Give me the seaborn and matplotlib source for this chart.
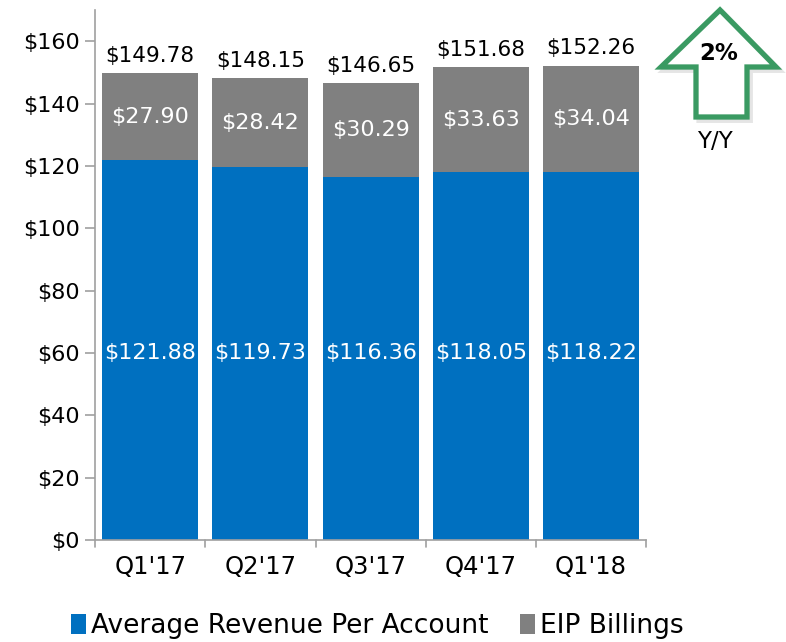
import matplotlib
matplotlib.use("Agg")
import matplotlib.pyplot as plt
import seaborn as sns
import pandas as pd
import numpy as np
from matplotlib.patches import Polygon

quarters = ["Q1'17", "Q2'17", "Q3'17", "Q4'17", "Q1'18"]
arpa = [121.88, 119.73, 116.36, 118.05, 118.22]
eip = [27.90, 28.42, 30.29, 33.63, 34.04]
totals = [149.78, 148.15, 146.65, 151.68, 152.26]
yticks = [0, 20, 40, 60, 80, 100, 120, 140, 160]

BLUE = "#0070C0"
GRAY = "#808080"
GREEN = "#3A9A62"
NARROW = ['Liberation Sans Narrow', 'DejaVu Sans']

sns.set_theme(style="white")
plt.rcParams['font.family'] = ['DejaVu Sans']
plt.rcParams['text.color'] = 'black'
plt.rcParams['xtick.color'] = 'black'
plt.rcParams['ytick.color'] = 'black'

df = pd.DataFrame({"quarter": quarters, "arpa": arpa, "eip": eip,
                   "total": [a + e for a, e in zip(arpa, eip)]})

fig = plt.figure(figsize=(7.86, 6.42), dpi=100)
ax = fig.add_axes([0.121, 0.159, 0.701, 0.825])

sns.barplot(data=df, x="quarter", y="total", color=GRAY, width=0.87,
            saturation=1, ax=ax, label="EIP Billings", linewidth=0)
sns.barplot(data=df, x="quarter", y="arpa", color=BLUE, width=0.87,
            saturation=1, ax=ax, label="Average Revenue Per Account", linewidth=0)
handles, labels = ax.get_legend_handles_labels()
if ax.get_legend() is not None:
    ax.get_legend().remove()

ax.set_ylim(0, 170)
ax.set_xlim(-0.5, 4.5)
ax.set_yticks(yticks)
ax.set_yticklabels([f"${v}" for v in yticks], fontsize=16, color="black")
ax.set_xticks(range(len(quarters)))
ax.set_xticklabels(quarters, fontsize=17.5, family=NARROW, color="black")
ax.set_xlabel("")
ax.set_ylabel("")
ax.tick_params(axis="x", length=0, pad=11)
ax.tick_params(axis="y", length=7, color="#a0a0a0", direction="out", left=True, width=1.2, pad=4)
for x in np.arange(-0.5, 5.0, 1.0):
    ax.plot([x, x], [0, -2.2], color="#a0a0a0", lw=1.2, clip_on=False)
for s in ["top", "right"]:
    ax.spines[s].set_visible(False)
for s in ["left", "bottom"]:
    ax.spines[s].set_color("#a0a0a0")
    ax.spines[s].set_linewidth(1.2)

for i in range(len(quarters)):
    ax.text(i, totals[i] + 2.3, f"${totals[i]:.2f}", ha="center", va="bottom",
            fontsize=15.5, color="black")
    ax.text(i, arpa[i] + eip[i] / 2, f"${eip[i]:.2f}", ha="center", va="center",
            fontsize=16, color="white")
    ax.text(i, 60, f"${arpa[i]:.2f}", ha="center", va="center",
            fontsize=16, color="white")

# legend
order = [labels.index("Average Revenue Per Account"), labels.index("EIP Billings")]
leg = fig.legend([handles[k] for k in order], [labels[k] for k in order],
                 loc="center", bbox_to_anchor=(0.48, 0.025), ncol=2, frameon=False,
                 prop={"family": NARROW, "size": 19},
                 handlelength=0.55, handleheight=0.8, handletextpad=0.2,
                 columnspacing=1.2)

# arrow
def px(x, y):
    return (x / 786, 1 - y / 642)
pts = [px(720, 10), px(776, 67), px(747, 67), px(747, 117), px(696, 117),
       px(696, 67), px(661, 67)]
shadow = Polygon([(a + 0.004, b - 0.005) for a, b in pts], closed=True,
                 transform=fig.transFigure, facecolor="#e6e6e6", edgecolor="#d5d5d5",
                 lw=4, alpha=0.6)
fig.add_artist(shadow)
arrow = Polygon(pts, closed=True, transform=fig.transFigure, facecolor="white",
                edgecolor=GREEN, lw=3.8, joinstyle="miter")
fig.add_artist(arrow)
fig.text(*px(719, 53), "2%", ha="center", va="center", fontsize=16.5, fontweight="bold")
fig.text(*px(715, 142), "Y/Y", ha="center", va="center", fontsize=16.5, family=NARROW)

fig.savefig("out.png", dpi=100)
